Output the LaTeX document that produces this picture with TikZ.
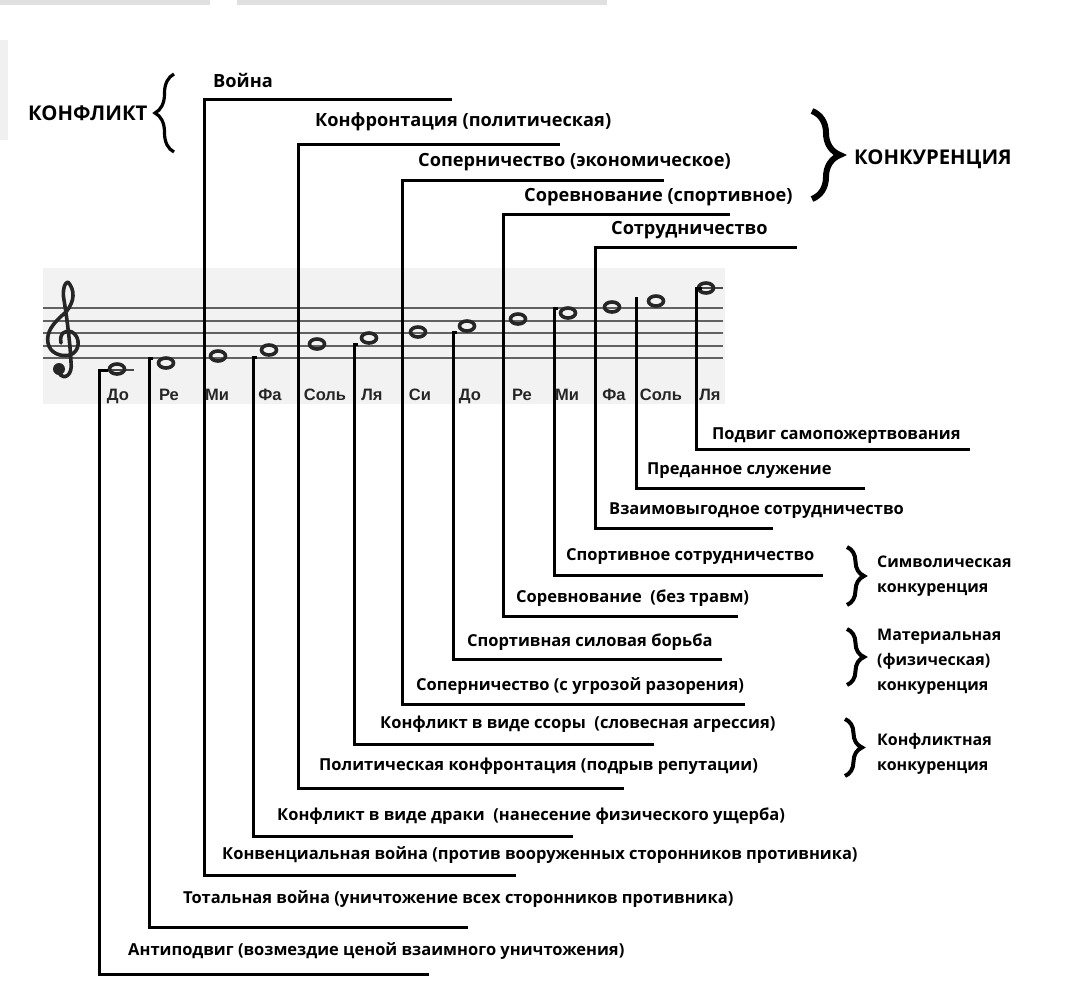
\documentclass[tikz,border=0pt]{standalone}
\usepackage{fontspec}
\setmainfont{Open Sans}
\newfontfamily\notefont{Liberation Sans}
\usetikzlibrary{decorations.pathreplacing}
\usetikzlibrary{shapes.geometric}
\usetikzlibrary{positioning}

\begin{document}
\begin{tikzpicture}[x=1pt,y=-1pt,
  lbl/.style={anchor=west, inner sep=0pt, font=\fontsize{16.5}{20}\selectfont\bfseries},
  toplbl/.style={anchor=west, inner sep=0pt, font=\fontsize{18.2}{22}\selectfont\bfseries},
  biglbl/.style={anchor=west, inner sep=0pt, font=\fontsize{20.3}{24}\selectfont\bfseries},
  grplbl/.style={anchor=west, inner sep=0pt, align=left, font=\fontsize{16}{25}\selectfont\bfseries},
  notelbl/.style={anchor=base, inner sep=0pt, text=black!85, font=\notefont\fontsize{16.5}{18}\selectfont\bfseries},
  notehead/.style={ellipse, draw=black!85, line width=3.6pt, minimum width=15pt, minimum height=10pt, inner sep=0pt},
  bar/.style={line width=3pt, line join=miter},
  staffline/.style={line width=2pt, black!62},
  ledger/.style={line width=1.8pt, black!72},
  grpbrace/.style={decorate, decoration={brace, amplitude=#1}},
]
\useasboundingbox (0,0) rectangle (1077,990);

% scan leftovers
\fill[black!12] (0,0) rectangle (210,5);
\fill[black!12] (237,0) rectangle (607,5);
\fill[black!6] (0,40) rectangle (8,140);

% staff
\fill[black!5] (43,268) rectangle (725,404);
\draw[staffline] (43,308) -- (723,308);
\draw[staffline] (43,320.5) -- (723,320.5);
\draw[staffline] (43,333) -- (723,333);
\draw[staffline] (43,345.5) -- (723,345.5);
\draw[staffline] (43,357.5) -- (723,357.5);
\draw[ledger] (99,370) -- (134,370);
\draw[ledger] (696,288) -- (723,288);

% treble clef
\draw[line width=3.6pt, black!85, line cap=round, line join=round]
  (59,373) .. controls (64,381) and (73,375) .. (71,362)
  .. controls (70,340) and (66,312) .. (64,300)
  .. controls (62,290) and (65,282) .. (68,282)
  .. controls (75,290) and (75,301) .. (66,312)
  .. controls (53,323) and (46,332) .. (48,343)
  .. controls (50,354) and (62,357) .. (70,355)
  .. controls (80,352) and (81,337) .. (72,332)
  .. controls (65,329) and (59,334) .. (61,343);
\fill[black!85] (59,369) circle [radius=6pt];

% notes
\node[notehead] (n1)  at (117,369) {};
\node[notehead] (n2)  at (166,363) {};
\node[notehead] (n3)  at (218,356) {};
\node[notehead] (n4)  at (269,350) {};
\node[notehead] (n5)  at (317,344) {};
\node[notehead] (n6)  at (369,338) {};
\node[notehead] (n7)  at (418,332) {};
\node[notehead] (n8)  at (467,326) {};
\node[notehead] (n9)  at (518,319) {};
\node[notehead] (n10) at (568,313) {};
\node[notehead] (n11) at (612,307) {};
\node[notehead] (n12) at (656,301) {};
\node[notehead] (n13) at (706,288) {};

\node[notelbl] (l1)  at (118,400) {До};
\node[notelbl] (l2)  at (169,400) {Ре};
\node[notelbl] (l3)  at (217,400) {Ми};
\node[notelbl] (l4)  at (270,400) {Фа};
\node[notelbl] (l5)  at (325,400) {Соль};
\node[notelbl] (l6)  at (372,400) {Ля};
\node[notelbl] (l7)  at (420,400) {Си};
\node[notelbl] (l8)  at (470,400) {До};
\node[notelbl] (l9)  at (522,400) {Ре};
\node[notelbl] (l10) at (567,400) {Ми};
\node[notelbl] (l11) at (614,400) {Фа};
\node[notelbl] (l12) at (661,400) {Соль};
\node[notelbl] (l13) at (710,400) {Ля};

% upper labels
\node[biglbl] (konflikt) at (28,113)  {КОНФЛИКТ};
\node[biglbl] (konkur)   at (854,159) {КОНКУРЕНЦИЯ};
\node[toplbl] (voina)    at (213,80)  {Война};
\node[toplbl] (konfront) at (315,122) {Конфронтация (политическая)};
\node[toplbl] (sopern)   at (418,162) {Соперничество (экономическое)};
\node[toplbl] (sorevn)   at (524,197) {Соревнование (спортивное)};
\node[toplbl] (sotrud)   at (611,230) {Сотрудничество};

\draw[line width=3.2pt, grpbrace=19pt] (174,152) -- (174,74);
\draw[line width=6pt, grpbrace=28pt] (812,111) -- (812,199);

% lower labels
\node[lbl] (podvig)    at (712,436) {Подвиг самопожертвования};
\node[lbl] (predan)    at (647,471) {Преданное служение};
\node[lbl] (vzaim)     at (609,511) {Взаимовыгодное сотрудничество};
\node[lbl] (sportsotr) at (566,557) {Спортивное сотрудничество};
\node[lbl] (bezravm)   at (516,598) {Соревнование\ \ (без травм)};
\node[lbl] (silovaya)  at (467,642) {Спортивная силовая борьба};
\node[lbl] (razor)     at (416,686) {Соперничество (с угрозой разорения)};
\node[lbl] (ssora)     at (380,724) {Конфликт в виде ссоры\ \ (словесная агрессия)};
\node[lbl] (reput)     at (319,766) {Политическая конфронтация (подрыв репутации)};
\node[lbl] (draka)     at (277,816) {Конфликт в виде драки\ \ (нанесение физического ущерба)};
\node[lbl] (konvenc)   at (222,855) {Конвенциальная война (против вооруженных сторонников противника)};
\node[lbl] (total)     at (183,899) {Тотальная война (уничтожение всех сторонников противника)};
\node[lbl] (antipod)   at (128,951) {Антиподвиг (возмездие ценой взаимного уничтожения)};

\node[grplbl] (simvol) at (877,576) {Символическая\\конкуренция};
\node[grplbl] (mater)  at (877,662) {Материальная\\(физическая)\\конкуренция};
\node[grplbl] (konfl)  at (877,754) {Конфликтная\\конкуренция};

\draw[line width=4pt, grpbrace=17pt] (847,547) -- (847,605);
\draw[line width=4pt, grpbrace=17pt] (847,629) -- (847,685);
\draw[line width=4pt, grpbrace=17pt] (845,719) -- (845,776);

% line ends
\coordinate (s1)  at (99,370);   \coordinate (e1)  at (429,974);
\coordinate (s2)  at (149,358);  \coordinate (e2)  at (468,927);
\coordinate (t3)  at (452,100);  \coordinate (k3)  at (204,100);  \coordinate (e3)  at (516,875);
\coordinate (s4)  at (253,357);  \coordinate (e4)  at (573,836);
\coordinate (t5)  at (560,144);  \coordinate (k5)  at (298,144);  \coordinate (e5)  at (624,788);
\coordinate (s6)  at (354,344);  \coordinate (e6)  at (654,744);
\coordinate (t7)  at (664,180);  \coordinate (k7)  at (402,180);  \coordinate (e7)  at (745,704);
\coordinate (s8)  at (453,332);  \coordinate (e8)  at (722,659);
\coordinate (t9)  at (730,214);  \coordinate (k9)  at (503,214);  \coordinate (e9)  at (738,616);
\coordinate (s10) at (554,308);  \coordinate (e10) at (823,575);
\coordinate (t11) at (797,247);  \coordinate (k11) at (595,247);  \coordinate (e11) at (773,528);
\coordinate (s12) at (636,297);  \coordinate (e12) at (865,488);
\coordinate (s13) at (696,288);  \coordinate (e13) at (970,449);

\draw[bar] ([xshift=9pt]s1) -- (s1) |- (e1);
\draw[bar] ([xshift=4pt]s2) -- (s2) |- (e2);
\draw[bar] (t3) -- (k3) |- (e3);
\draw[bar] ([xshift=4pt]s4) -- (s4) |- (e4);
\draw[bar] (t5) -- (k5) |- (e5);
\draw[bar] ([xshift=4pt]s6) -- (s6) |- (e6);
\draw[bar] (t7) -- (k7) |- (e7);
\draw[bar] ([xshift=4pt]s8) -- (s8) |- (e8);
\draw[bar] (t9) -- (k9) |- (e9);
\draw[bar] ([xshift=4pt]s10) -- (s10) |- (e10);
\draw[bar] (t11) -- (k11) |- (e11);
\draw[bar] (s12) |- (e12);
\draw[bar] ([xshift=6pt]s13) -- (s13) |- (e13);
\end{tikzpicture}
\end{document}
